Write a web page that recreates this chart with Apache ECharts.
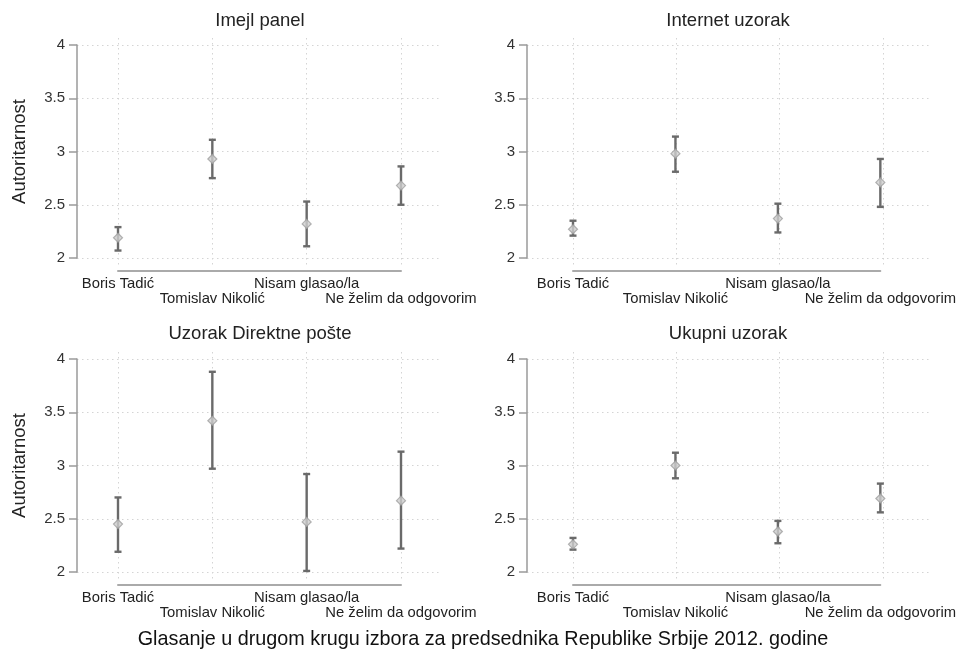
<!DOCTYPE html>
<html>
<head>
<meta charset="utf-8">
<script src="https://cdn.jsdelivr.net/npm/echarts@6/dist/echarts.min.js"></script>
<style>html,body{margin:0;padding:0;background:#fff}#c{width:959px;height:654px}</style>
</head>
<body>
<div id="c"></div>
<script>
// ---- data ----
const categories = ['Boris Tadić', 'Tomislav Nikolić', 'Nisam glasao/la', 'Ne želim da odgovorim'];
const panelTitles = ['Imejl panel', 'Internet uzorak', 'Uzorak Direktne pošte', 'Ukupni uzorak'];
const yTicks = [2, 2.5, 3, 3.5, 4];
const xTitle = 'Glasanje u drugom krugu izbora za predsednika Republike Srbije 2012. godine';
const yTitle = 'Autoritarnost';

const meanImejl    = [2.19, 2.93, 2.32, 2.68];
const lowImejl     = [2.07, 2.75, 2.11, 2.50];
const highImejl    = [2.29, 3.11, 2.53, 2.86];

const meanInternet = [2.27, 2.98, 2.37, 2.71];
const lowInternet  = [2.21, 2.81, 2.24, 2.48];
const highInternet = [2.35, 3.14, 2.51, 2.93];

const meanPosta    = [2.45, 3.42, 2.47, 2.67];
const lowPosta     = [2.19, 2.97, 2.01, 2.22];
const highPosta    = [2.70, 3.88, 2.92, 3.13];

const meanUkupno   = [2.26, 3.00, 2.38, 2.69];
const lowUkupno    = [2.21, 2.88, 2.27, 2.56];
const highUkupno   = [2.32, 3.12, 2.48, 2.83];

const panelsData = [
  [meanImejl, lowImejl, highImejl],
  [meanInternet, lowInternet, highInternet],
  [meanPosta, lowPosta, highPosta],
  [meanUkupno, lowUkupno, highUkupno]
];

// ---- layout ----
const layout = [
  {plotL: 77,  plotR: 442, cat1: 118, cat4: 401, top: 45,  titleX: 260, titleY: 11, yName: true},
  {plotL: 527, plotR: 930, cat1: 573, cat4: 883, top: 45,  titleX: 728, titleY: 11, yName: false},
  {plotL: 77,  plotR: 442, cat1: 118, cat4: 401, top: 359, titleX: 260, titleY: 324, yName: true},
  {plotL: 527, plotR: 930, cat1: 573, cat4: 883, top: 359, titleX: 728, titleY: 324, yName: false}
];
const H = 213;
const FONT = '"Liberation Sans", Arial, sans-serif';
const gridDot = {show: true, lineStyle: {color: '#d4d4d4', type: [1.5, 3.5], width: 1}};

const grids = [], xAxes = [], yAxes = [], series = [], titles = [];
layout.forEach((L, p) => {
  const gA = grids.length;
  // A: y axis with horizontal grid lines over full plot region
  grids.push({left: L.plotL, top: L.top, width: L.plotR - L.plotL, height: H});
  xAxes.push({gridIndex: gA, type: 'value', min: 0, max: 1, show: false});
  yAxes.push({gridIndex: gA, type: 'value', min: yTicks[0], max: yTicks[yTicks.length - 1], interval: 0.5,
    axisLine: {show: true, lineStyle: {color: '#9a9a9a', width: 1.5}},
    axisTick: {show: true, length: 8, lineStyle: {color: '#9a9a9a', width: 1.5}},
    axisLabel: {color: '#333', fontSize: 15, fontFamily: FONT, margin: 12},
    splitLine: gridDot,
    name: L.yName ? yTitle : '', nameLocation: 'middle', nameGap: 48,
    nameTextStyle: {color: '#222', fontSize: 18.5, fontFamily: FONT}
  });
  // B: vertical grid lines at categories
  const gB = grids.length;
  grids.push({left: L.cat1, top: L.top - 7, width: L.cat4 - L.cat1, height: H + 17});
  xAxes.push({gridIndex: gB, type: 'category', data: categories, boundaryGap: false,
    axisLine: {show: false}, axisTick: {show: false}, axisLabel: {show: false},
    splitLine: {show: true, interval: 0, lineStyle: {color: '#d4d4d4', type: [1.5, 3.5], width: 1}}});
  yAxes.push({gridIndex: gB, type: 'value', show: false, splitLine: {show: false}});
  // C: series + x axis
  const gC = grids.length;
  grids.push({left: L.cat1, top: L.top, width: L.cat4 - L.cat1, height: H});
  xAxes.push({gridIndex: gC, type: 'category', data: categories, boundaryGap: false, offset: 13,
    axisLine: {show: true, lineStyle: {color: '#aaaaaa', width: 2}},
    axisTick: {show: false},
    axisLabel: {interval: 0, color: '#222', fontSize: 14.8, fontFamily: FONT, margin: 5, lineHeight: 15.5,
      formatter: (v, i) => (i % 2 ? '\n' + v : v)},
    splitLine: {show: false}});
  yAxes.push({gridIndex: gC, type: 'value', min: 2, max: 4, show: false, splitLine: {show: false}});

  const [m, lo, hi] = panelsData[p];
  series.push({
    type: 'custom', xAxisIndex: gC, yAxisIndex: gC,
    data: categories.map((c, i) => [i, lo[i], hi[i]]),
    renderItem: (params, api) => {
      const a = api.coord([api.value(0), api.value(1)]);
      const b = api.coord([api.value(0), api.value(2)]);
      const w = 3.5;
      const st = {stroke: '#6a6a6a', lineWidth: 2.4, fill: null};
      return {type: 'group', children: [
        {type: 'line', shape: {x1: a[0], y1: a[1], x2: b[0], y2: b[1]}, style: st},
        {type: 'line', shape: {x1: a[0] - w, y1: a[1], x2: a[0] + w, y2: a[1]}, style: st},
        {type: 'line', shape: {x1: b[0] - w, y1: b[1], x2: b[0] + w, y2: b[1]}, style: st}
      ]};
    },
    z: 3
  });
  series.push({
    type: 'scatter', xAxisIndex: gC, yAxisIndex: gC,
    data: categories.map((c, i) => [i, m[i]]),
    symbol: 'diamond', symbolSize: 9,
    itemStyle: {color: '#cfcfcf', borderColor: '#a0a0a0', borderWidth: 1.2},
    z: 4
  });
  titles.push({text: panelTitles[p], left: L.titleX, top: L.titleY, textAlign: 'center', padding: 0,
    textStyle: {fontSize: 18.5, fontWeight: 'normal', color: '#222', fontFamily: FONT}});
});
titles.push({text: xTitle, left: 483, top: 630, textAlign: 'center', padding: 0,
  textStyle: {fontSize: 19.8, fontWeight: 'normal', color: '#111', fontFamily: FONT}});

const chart = echarts.init(document.getElementById('c'), null, {renderer: 'canvas'});
chart.setOption({
  backgroundColor: '#fff',
  animation: false,
  title: titles,
  grid: grids,
  xAxis: xAxes,
  yAxis: yAxes,
  series: series
});
</script>
</body>
</html>
